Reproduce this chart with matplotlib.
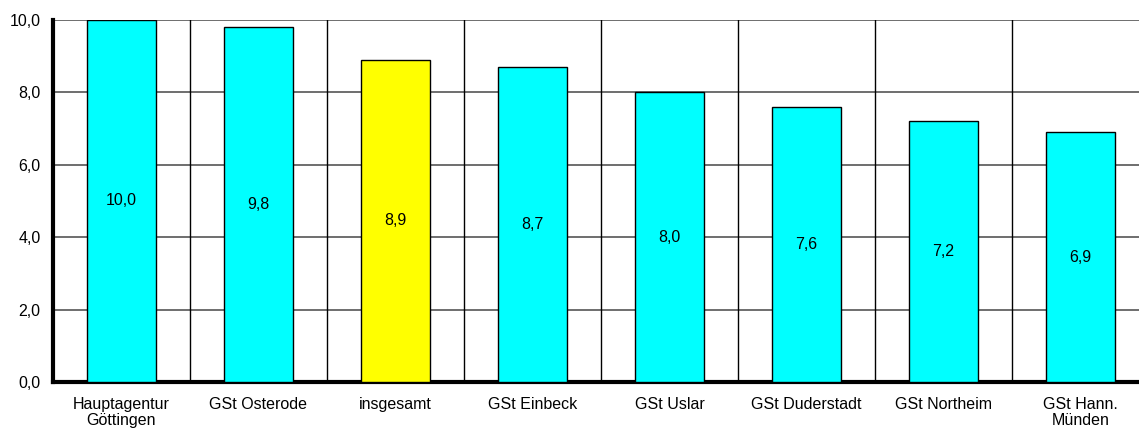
import numpy as np
import matplotlib.pyplot as plt

plt.rcParams['font.family'] = ['Liberation Sans', 'DejaVu Sans']

categories = ["Hauptagentur\nGöttingen", "GSt Osterode", "insgesamt", "GSt Einbeck",
              "GSt Uslar", "GSt Duderstadt", "GSt Northeim", "GSt Hann.\nMünden"]
values = [10.0, 9.8, 8.9, 8.7, 8.0, 7.6, 7.2, 6.9]
colors = ["#00FFFF", "#00FFFF", "#FFFF00", "#00FFFF", "#00FFFF", "#00FFFF", "#00FFFF", "#00FFFF"]

fig = plt.figure(figsize=(11.39, 4.28), dpi=100)
ax = fig.add_axes([0.0465, 0.1075, 0.9623, 0.8458])

x = np.arange(len(values))
ax.bar(x, values, width=0.5, color=colors, edgecolor="black", linewidth=1, zorder=3)

for xi, v in zip(x, values):
    ax.text(xi, v / 2, f"{v:.1f}".replace(".", ","), ha="center", va="center",
            fontsize=11.5, zorder=4)

ax.set_xlim(-0.5, len(values) - 0.5)
ax.set_ylim(0, 10)
ax.set_yticks(np.arange(0, 11, 2))
ax.set_yticklabels([f"{t:.1f}".replace(".", ",") for t in np.arange(0, 11, 2)], fontsize=11.5)
ax.set_xticks(x)
ax.set_xticklabels(categories, fontsize=11.5, linespacing=1.15)
ax.tick_params(axis="y", length=0, pad=9)
ax.tick_params(axis="x", length=0, pad=10.5)

# horizontal grid
for t in np.arange(2, 11, 2):
    ax.axhline(t, color="#555555", linewidth=1.2, zorder=1)
# vertical separators between categories
for b in np.arange(0.5, len(values) - 0.5, 1):
    ax.axvline(b, color="black", linewidth=1, zorder=1)

for s in ["top", "right"]:
    ax.spines[s].set_visible(False)
ax.spines["left"].set_linewidth(3)
ax.spines["bottom"].set_linewidth(3)

fig.savefig("out.png", dpi=100)
